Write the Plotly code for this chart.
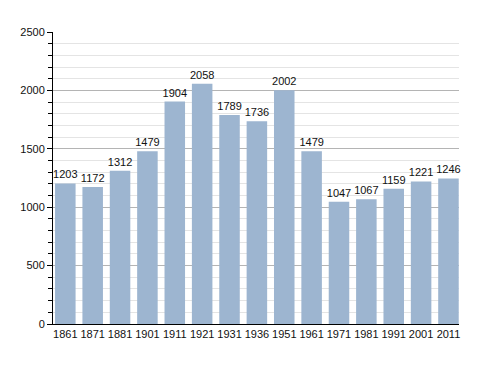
import plotly.graph_objects as go

years = ["1861", "1871", "1881", "1901", "1911", "1921", "1931", "1936",
         "1951", "1961", "1971", "1981", "1991", "2001", "2011"]
population = [1203, 1172, 1312, 1479, 1904, 2058, 1789, 1736,
              2002, 1479, 1047, 1067, 1159, 1221, 1246]
y_ticks = [0, 500, 1000, 1500, 2000, 2500]

fig = go.Figure(go.Bar(
    x=years, y=population,
    marker=dict(color="#9db5d0", line=dict(width=0)),
    text=[str(v) for v in population],
    textposition="outside",
    constraintext="none",
    textfont=dict(family="Liberation Sans, Arial", size=11, color="#111"),
    cliponaxis=False,
))

fig.update_layout(
    width=488, height=373,
    margin=dict(l=42, r=37, t=24, b=57),
    plot_bgcolor="white", paper_bgcolor="white",
    bargap=0.25,
    showlegend=False,
    font=dict(family="Liberation Sans, Arial", size=11, color="#111"),
    xaxis=dict(
        type="category", showline=True, linecolor="#000", linewidth=1.2,
        ticks="", ticklen=0, showgrid=False, tickfont=dict(size=11),
        ticklabelstandoff=0, range=[-0.45, 14.385],
    ),
    yaxis=dict(
        range=[0, 2500], tickvals=y_ticks, showline=True, linecolor="#000",
        linewidth=1, ticks="outside", ticklen=5, tickcolor="#000",
        showgrid=True, gridcolor="#b4b4b4", gridwidth=1,
        zeroline=False, tickfont=dict(size=11),
        minor=dict(dtick=100, tick0=0, ticks="outside", ticklen=4, tickcolor="#000",
                   showgrid=True, gridcolor="#e4e4e4", gridwidth=1),
    ),
)

fig.write_html("out.html")
